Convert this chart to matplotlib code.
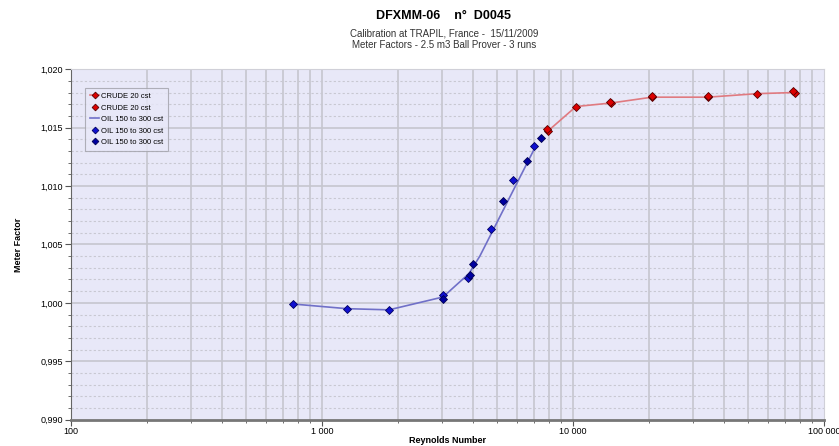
import numpy as np
import matplotlib.pyplot as plt
from matplotlib.ticker import FixedLocator, FuncFormatter, MultipleLocator

# CRUDE 20 cst - run with connecting line, plus repeat runs
crude_re = [7946, 10280, 14170, 20640, 34500, 54060, 76600]
crude_mf = [1.0147, 1.0168, 1.0171, 1.0176, 1.0176, 1.0179, 1.0180]
crude2_re = [7900, 14100, 20600, 34400, 75000]
crude2_mf = [1.0149, 1.0172, 1.0177, 1.0177, 1.0181]

# OIL 150 to 300 cst - fitted line and two sets of runs
oil_line_re = [766, 1258, 1849, 3035, 3850, 4256, 7063]
oil_line_mf = [0.9999, 0.9995, 0.9994, 1.0005, 1.0025, 1.0040, 1.0133]
oil1_re = [766, 1258, 1849, 3035, 3816, 4713, 5767, 6999]
oil1_mf = [0.9999, 0.9995, 0.9994, 1.0007, 1.0021, 1.0063, 1.0105, 1.0134]
oil2_re = [3035, 3890, 3996, 5263, 6561, 7459]
oil2_mf = [1.0003, 1.0024, 1.0033, 1.0087, 1.0121, 1.0141]

plt.rcParams['font.family'] = ['Liberation Sans', 'DejaVu Sans']

fig = plt.figure(figsize=(8.39, 4.46), dpi=100)
ax = fig.add_axes([0.0846, 0.059, 0.8975, 0.786])
ax.set_facecolor('#e8e8f8')

ax.set_xscale('log')
ax.set_xlim(100, 100000)
ax.set_ylim(0.990, 1.020)

# grid: every log step solid, horizontal majors solid, minors dotted
vlines = [m * 10**e for e in range(2, 5) for m in range(1, 10)]
for v in vlines:
    ax.axvline(v, color='#c6c6ce', lw=1.2, zorder=0)
for h in np.arange(0.995, 1.020, 0.005):
    ax.axhline(h, color='#c6c6ce', lw=1.2, zorder=0)
for h in np.arange(0.991, 1.020, 0.001):
    if round(h * 1000) % 5:
        ax.axhline(h, color='#c8c8d2', lw=0.8, ls=(0, (2, 2)), zorder=0)

mk = dict(marker='D', ms=3.8, mew=0.6)
ax.plot(crude_re, crude_mf, color='#e07a80', lw=1.2, mfc='#dd0000', mec='#550000',
        label='CRUDE 20 cst', zorder=3, **mk)
ax.plot(crude2_re, crude2_mf, ls='none', mfc='#dd0000', mec='#550000',
        label='CRUDE 20 cst', zorder=3, **mk)
ax.plot(oil_line_re, oil_line_mf, color='#7070c8', lw=1.2,
        label='OIL 150 to 300 cst', zorder=2)
ax.plot(oil1_re, oil1_mf, ls='none', mfc='#1010d0', mec='#000060',
        label='OIL 150 to 300 cst', zorder=3, **mk)
ax.plot(oil2_re, oil2_mf, ls='none', mfc='#0000a0', mec='#000050',
        label='OIL 150 to 300 cst', zorder=3, **mk)

ax.xaxis.set_major_locator(FixedLocator([100, 1000, 10000, 100000]))
ax.xaxis.set_minor_locator(FixedLocator(vlines))
ax.xaxis.set_minor_formatter(FuncFormatter(lambda v, p: ''))
ax.xaxis.set_major_formatter(FuncFormatter(lambda v, p: f'{int(round(v)):,}'.replace(',', ' ')))
ax.yaxis.set_major_locator(MultipleLocator(0.005))
ax.yaxis.set_minor_locator(MultipleLocator(0.001))
ax.yaxis.set_major_formatter(FuncFormatter(lambda v, p: f'{v:.3f}'.replace('.', ',')))

ax.tick_params(axis='both', which='major', labelsize=6.5, length=4, color='#555555')
ax.tick_params(axis='x', which='major', pad=1.5)
ax.tick_params(axis='y', which='major', pad=2)
ax.tick_params(axis='both', which='minor', length=2.5, color='#555555')

for s in ['top', 'right']:
    ax.spines[s].set_color('#d0d0d8')
ax.spines['left'].set_color('#666666')
ax.spines['bottom'].set_color('#777777')
ax.spines['bottom'].set_linewidth(2)

ax.set_xlabel('Reynolds Number', fontsize=6.5, fontweight='bold', labelpad=0)
ax.set_ylabel('Meter Factor', fontsize=6.5, fontweight='bold', labelpad=12)

leg = ax.legend(loc='upper left', bbox_to_anchor=(0.014, 0.957), fontsize=5.5,
                frameon=True, fancybox=False, borderpad=0.6, handlelength=1.2,
                handletextpad=0.3, labelspacing=0.55, markerscale=0.9)
leg.get_frame().set_facecolor('#e8e8f8')
leg.get_frame().set_edgecolor('#a0a0a8')
leg.get_frame().set_linewidth(0.8)

fig.text(0.529, 0.965, 'DFXMM-06    n°  D0045', ha='center', va='center',
         fontsize=9, fontweight='bold')
fig.text(0.529, 0.925, 'Calibration at TRAPIL, France -  15/11/2009', ha='center',
         va='center', fontsize=7, color='#333333')
fig.text(0.529, 0.898, 'Meter Factors - 2.5 m3 Ball Prover - 3 runs', ha='center',
         va='center', fontsize=7, color='#333333')

fig.savefig('out.png', dpi=100)
